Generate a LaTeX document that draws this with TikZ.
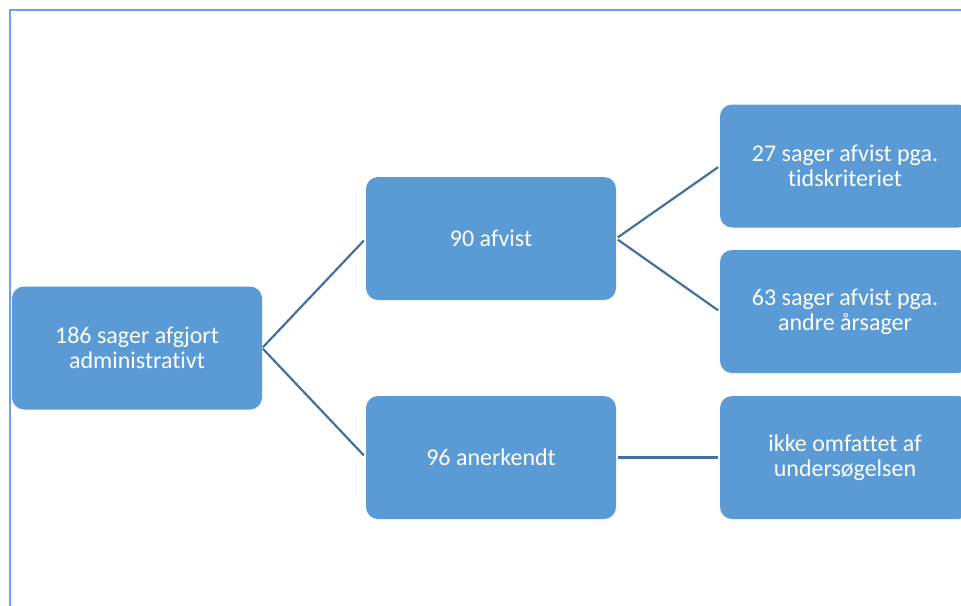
\documentclass[tikz,border=0pt]{standalone}
\usepackage{fontspec}
\setmainfont[RawFeature={-liga}]{Carlito}
\usetikzlibrary{positioning}
\definecolor{boxblue}{HTML}{5B9BD5}
\definecolor{lineblue}{HTML}{41719C}
\definecolor{frameblue}{HTML}{6AA6DE}
\tikzset{
  casebox/.style={fill=boxblue, rounded corners=12pt, minimum width=250pt, minimum height=123pt,
    text=white, align=center, font=\fontsize{24}{25}\selectfont, inner sep=0pt},
  link/.style={draw=lineblue, line width=2.2pt}
}
\begin{document}
\begin{tikzpicture}[x=1pt,y=-1pt]
\path[use as bounding box, clip] (0,0) rectangle (961,605);
\draw [draw=frameblue, line width=2pt] (10,620) -- (10,10) -- (980,10);
% boxes
\node [casebox] (root) at (137,348) {186 sager afgjort\\administrativt};
\node [casebox] (afvist) at (491,238.5) {90 afvist};
\node [casebox] (anerk) at (491,457.5) {96 anerkendt};
\node [casebox] (tid) at (845,166) {27 sager afvist pga.\\tidskriteriet};
\node [casebox] (andre) at (845,311.5) {63 sager afvist pga.\\andre årsager};
\node [casebox] (ikke) at (845,457.5) {ikke omfattet af\\undersøgelsen};
% connectors
\draw [link, shorten <=1pt, shorten >=3pt] (root.east) -- (afvist.west);
\draw [link, shorten <=1pt, shorten >=3pt] (root.east) -- (anerk.west);
\draw [link, shorten <=2pt, shorten >=2pt] (afvist.east) -- (tid.west);
\draw [link, shorten <=2pt, shorten >=2pt] (afvist.east) -- (andre.west);
\draw [link, shorten <=2pt, shorten >=2pt] (anerk.east) -- (ikke.west);
\end{tikzpicture}
\end{document}
